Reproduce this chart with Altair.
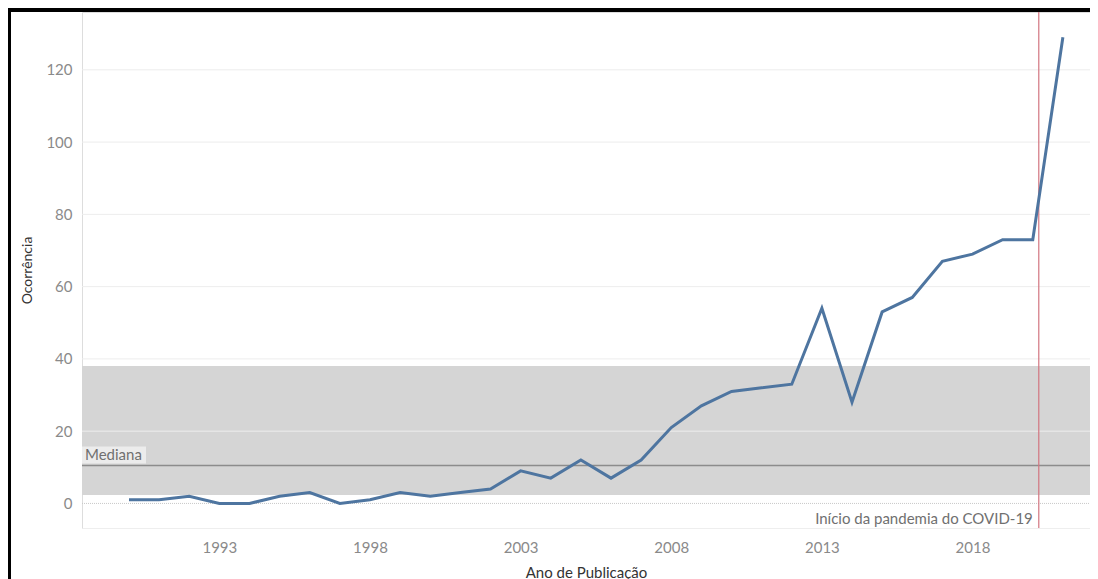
import altair as alt
import pandas as pd

# Data
anos = list(range(1990, 2022))
ocorrencias = [1, 1, 2, 0, 0, 2, 3, 0, 1, 3, 2, 3, 4, 9, 7, 12, 7, 12,
               21, 27, 31, 32, 33, 54, 28, 53, 57, 67, 69, 73, 73, 129]

x_ticks = [1993, 1998, 2003, 2008, 2013, 2018]
y_ticks = [0, 20, 40, 60, 80, 100, 120]
band_low = [2.3]
band_high = [38]
pandemia_ano = [2020.2]
pandemia_texto = ["Início da pandemia do COVID-19"]
mediana_texto = ["Mediana"]

W, H = 1008, 516
FONT = "Lato"
FS = 15

df = pd.DataFrame({"Ano": anos, "Ocorrencia": ocorrencias})
band_df = pd.DataFrame({"lo": band_low, "hi": band_high})
grid_df = pd.DataFrame({"v": y_ticks[1:]})
zero_df = pd.DataFrame({"v": [0]})
pand_df = pd.DataFrame({"Ano": pandemia_ano, "txt": pandemia_texto})

xs = alt.Scale(domain=[1988.44, 2021.9], nice=False, zero=False)
ys = alt.Scale(domain=[-6.8, 136], nice=False, zero=False)

band = alt.Chart(band_df).mark_rect(color="#d5d5d5").encode(
    x=alt.value(0), x2=alt.value(W),
    y=alt.Y("lo:Q", scale=ys), y2="hi:Q")

grid = alt.Chart(grid_df).mark_rule(color="#ededed", strokeWidth=1).encode(
    x=alt.value(0), x2=alt.value(W), y=alt.Y("v:Q", scale=ys))

zero = alt.Chart(zero_df).mark_rule(color="#c8c8c8", strokeWidth=1, strokeDash=[1, 1]).encode(
    x=alt.value(0), x2=alt.value(W), y=alt.Y("v:Q", scale=ys))

base = alt.Chart(df)

median_rule = base.mark_rule(color="#8c8c8c", strokeWidth=1.5).encode(
    x=alt.value(0), x2=alt.value(W),
    y=alt.Y("median(Ocorrencia):Q", scale=ys))

median_box = base.transform_aggregate(med="median(Ocorrencia)").mark_rect(
    color="#ececec", yOffset=-2, y2Offset=-19).encode(
    x=alt.value(0), x2=alt.value(64),
    y=alt.Y("med:Q", scale=ys), y2="med:Q")

median_text = base.transform_aggregate(med="median(Ocorrencia)").transform_calculate(
    label=f"'{mediana_texto[0]}'").mark_text(
    align="left", baseline="middle", dx=3, dy=-10, font=FONT, fontSize=FS, color="#707070").encode(
    x=alt.value(0), y=alt.Y("med:Q", scale=ys), text="label:N")

pand_rule = alt.Chart(pand_df).mark_rule(color="#d27580", strokeWidth=1.2).encode(
    x=alt.X("Ano:Q", scale=xs), y=alt.value(0), y2=alt.value(H))

pand_text = alt.Chart(pand_df).mark_text(
    align="right", baseline="middle", dx=-6, font=FONT, fontSize=FS, color="#707070").encode(
    x=alt.X("Ano:Q", scale=xs), y=alt.value(H - 9), text="txt:N")

line = base.mark_line(color="#4e75a0", strokeWidth=3).encode(
    x=alt.X("Ano:Q", scale=xs,
            axis=alt.Axis(values=x_ticks, format="d", title="Ano de Publicação", grid=False,
                          ticks=False, tickSize=0, labelPadding=12, titlePadding=10,
                          domainColor="#eeeeee", labelColor="#8a8a8a", labelFontSize=FS,
                          labelFont=FONT, titleFont=FONT, titleFontSize=FS,
                          titleFontWeight="normal", titleColor="#333333")),
    y=alt.Y("Ocorrencia:Q", scale=ys,
            axis=alt.Axis(values=y_ticks, title="Ocorrência", grid=False, ticks=False,
                          tickSize=0, domain=False, labelPadding=10, titlePadding=11,
                          labelColor="#8a8a8a", labelFontSize=FS, labelFont=FONT,
                          titleFont=FONT, titleFontSize=FS - 1, titleFontWeight="normal",
                          titleColor="#333333")))

frame_left = base.mark_rule(color="#000000", strokeWidth=2.5).encode(
    x=alt.value(-73), y=alt.value(-3), y2=alt.value(H + 60))
frame_top = base.mark_rule(color="#000000", strokeWidth=2.5).encode(
    x=alt.value(-74), x2=alt.value(W + 10), y=alt.value(-2))

chart = alt.layer(
    band, grid, zero, median_rule, median_box, median_text,
    pand_rule, pand_text, line, frame_left, frame_top
).properties(
    width=W, height=H,
    autosize=alt.AutoSizeParams(type="none"),
    padding={"left": 74, "top": 4, "right": 0, "bottom": 55},
).configure_view(stroke=None).configure(background="white")

chart.save("out.html", embed_options={"renderer": "svg", "actions": False})
